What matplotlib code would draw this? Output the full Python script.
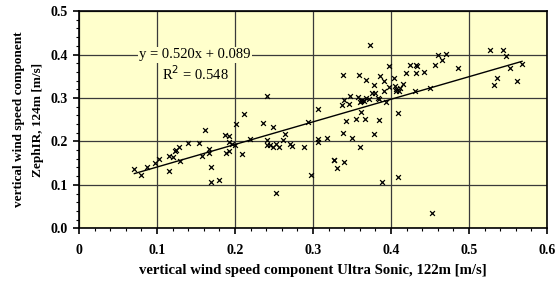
import numpy as np
import matplotlib
matplotlib.use("Agg")
import matplotlib.pyplot as plt
from matplotlib.ticker import MultipleLocator

# ---- DATA ----
x_sonic = [
    0.071, 0.079, 0.087, 0.098, 0.103, 0.116, 0.115, 0.120, 0.123, 0.125,
    0.128, 0.129, 0.140, 0.154, 0.158, 0.167, 0.167, 0.169, 0.169, 0.179,
    0.188, 0.192, 0.187, 0.192, 0.192, 0.196, 0.200, 0.162,
    0.241, 0.211, 0.201, 0.236, 0.249, 0.306, 0.294, 0.219, 0.209,
    0.241, 0.241, 0.245, 0.249, 0.252, 0.257, 0.262, 0.264, 0.271, 0.273, 0.288,
    0.306, 0.306, 0.318, 0.327, 0.298, 0.252,
    0.373, 0.397, 0.338, 0.359, 0.368, 0.386, 0.391, 0.378, 0.404, 0.397,
    0.405, 0.416, 0.412, 0.425, 0.432, 0.434, 0.419, 0.432, 0.442,
    0.376, 0.379, 0.391, 0.383, 0.406, 0.407, 0.410, 0.431, 0.393,
    0.347, 0.358, 0.368, 0.363, 0.372, 0.360, 0.362, 0.366,
    0.340, 0.346, 0.337, 0.385, 0.361, 0.409,
    0.342, 0.355, 0.367, 0.385, 0.338, 0.350, 0.378, 0.360,
    0.327, 0.340, 0.331, 0.389, 0.409, 0.452,
    0.456, 0.460, 0.470, 0.466, 0.486, 0.450,
    0.527, 0.543, 0.548, 0.553, 0.568, 0.536, 0.532, 0.561,
]
y_zephir = [
    0.136, 0.123, 0.140, 0.151, 0.159, 0.132, 0.167, 0.165, 0.179, 0.181,
    0.188, 0.155, 0.197, 0.197, 0.166, 0.182, 0.174, 0.142, 0.106, 0.111,
    0.174, 0.178, 0.215, 0.212, 0.198, 0.193, 0.192, 0.226,
    0.305, 0.264, 0.239, 0.243, 0.234, 0.274, 0.245, 0.206, 0.170,
    0.204, 0.191, 0.191, 0.186, 0.193, 0.188, 0.204, 0.217, 0.195, 0.190, 0.186,
    0.205, 0.199, 0.207, 0.158, 0.123, 0.081,
    0.421, 0.374, 0.352, 0.354, 0.342, 0.350, 0.339, 0.329, 0.345, 0.326,
    0.328, 0.333, 0.323, 0.377, 0.377, 0.373, 0.358, 0.357, 0.359,
    0.312, 0.312, 0.316, 0.300, 0.316, 0.320, 0.316, 0.316, 0.290,
    0.304, 0.303, 0.299, 0.295, 0.297, 0.290, 0.293, 0.293,
    0.295, 0.287, 0.283, 0.297, 0.267, 0.265,
    0.248, 0.252, 0.252, 0.250, 0.220, 0.208, 0.217, 0.188,
    0.157, 0.152, 0.138, 0.106, 0.117, 0.036,
    0.375, 0.400, 0.401, 0.388, 0.370, 0.322,
    0.410, 0.411, 0.397, 0.370, 0.379, 0.346, 0.331, 0.339,
]
slope = 0.520
intercept = 0.089
r2 = 0.548

x_ticks = [0, 0.1, 0.2, 0.3, 0.4, 0.5, 0.6]
x_labels = ["0", "0.1", "0.2", "0.3", "0.4", "0.5", "0.6"]
y_ticks = [0.0, 0.1, 0.2, 0.3, 0.4, 0.5]
y_labels = ["0.0", "0.1", "0.2", "0.3", "0.4", "0.5"]

# ---- PLOT ----
plt.rcParams["font.family"] = "Liberation Serif"

fig = plt.figure(figsize=(5.57, 2.85), dpi=100)
ax = fig.add_axes([0.1418, 0.199, 0.8402, 0.762])
ax.set_facecolor("#FFFFCC")

ax.set_xlim(0, 0.6)
ax.set_ylim(0, 0.5)
ax.set_xticks(x_ticks)
ax.set_xticklabels(x_labels)
ax.set_yticks(y_ticks)
ax.set_yticklabels(y_labels)
ax.xaxis.set_minor_locator(MultipleLocator(0.02))
ax.yaxis.set_minor_locator(MultipleLocator(0.02))
ax.tick_params(which="major", direction="out", length=4, width=1.2,
               labelsize=10)
ax.tick_params(which="minor", direction="out", length=2.5, width=0.8)
ax.tick_params(axis="x", pad=7)
ax.tick_params(axis="y", pad=4)
for lab in ax.get_xticklabels() + ax.get_yticklabels():
    lab.set_fontweight("bold")

ax.grid(True, which="major", color="#3a3a3a", linewidth=0.9)
ax.set_axisbelow(True)
for sp in ax.spines.values():
    sp.set_linewidth(1.2)
    sp.set_color("black")

ax.scatter(x_sonic, y_zephir, marker="x", s=12, color="black",
           linewidths=0.9, zorder=3)

xs = np.array([min(x_sonic), max(x_sonic)])
ax.plot(xs, slope * xs + intercept, color="black", linewidth=1.0, zorder=3)

ax.text(0.149, 0.40, f"y = {slope:.3f}x + {intercept:.3f}", ha="center",
        va="center", fontsize=10.5,
        bbox=dict(facecolor="#FFFFCC", edgecolor="none", pad=1), zorder=4)
ax.text(0.149, 0.357, f"R$^2$ = {r2:.3f}", ha="center", va="center",
        fontsize=10.5,
        bbox=dict(facecolor="#FFFFCC", edgecolor="none", pad=1), zorder=4)

ax.set_xlabel("vertical wind speed component Ultra Sonic, 122m [m/s]",
              fontsize=10.6, fontweight="bold", labelpad=5)
ax.set_ylabel("vertical wind speed component\nZephIR, 124m [m/s]",
              fontsize=9.5, fontweight="bold", labelpad=5, linespacing=1.7)

plt.savefig("out.png", dpi=100)
plt.close()
